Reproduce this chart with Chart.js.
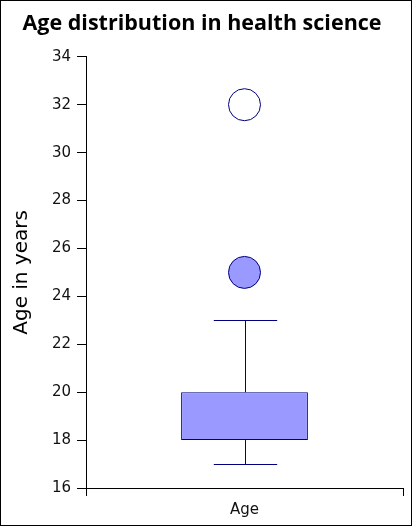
<!DOCTYPE html>
<html>
<head>
<meta charset="utf-8">
<script src="https://cdn.jsdelivr.net/npm/chart.js@4"></script>
<style>
  html, body { margin: 0; padding: 0; background: #fff; }
  #wrap { width: 412px; height: 526px; box-sizing: border-box; border: 1px solid #000; }
</style>
</head>
<body>
<div id="wrap"><canvas id="chart" width="410" height="524"></canvas></div>
<script>
// box plot values
const categories = ['Age'];
const boxLow = [18];
const boxHigh = [20];
const whiskerLow = [17];
const whiskerHigh = [23];
const outliers = [25];      // filled circles
const farOutliers = [32];   // open circles
const yTicks = [16, 18, 20, 22, 24, 26, 28, 30, 32, 34];

const navy = '#000080';
const fill = '#9999ff';

// draws the whisker stems and caps from the data through the scales
const whiskers = {
  id: 'whiskers',
  beforeDatasetsDraw(chart) {
    const { ctx, scales: { x, y } } = chart;
    const bar = chart.getDatasetMeta(0).data;
    ctx.save();
    ctx.strokeStyle = navy;
    ctx.lineWidth = 1;
    categories.forEach((c, i) => {
      const cx = Math.round(x.getPixelForValue(i)) + 0.5;
      const capHalf = bar[i].width / 4;
      const segs = [[boxHigh[i], whiskerHigh[i]], [whiskerLow[i], boxLow[i]]];
      segs.forEach(s => {
        ctx.beginPath();
        ctx.moveTo(cx, y.getPixelForValue(s[0]));
        ctx.lineTo(cx, y.getPixelForValue(s[1]));
        ctx.stroke();
      });
      [whiskerHigh[i], whiskerLow[i]].forEach(v => {
        const py = Math.round(y.getPixelForValue(v)) + 0.5;
        ctx.beginPath();
        ctx.moveTo(cx - capHalf, py);
        ctx.lineTo(cx + capHalf, py);
        ctx.stroke();
      });
    });
    ctx.restore();
  }
};

new Chart(document.getElementById('chart'), {
  type: 'bar',
  data: {
    labels: categories,
    datasets: [
      {
        label: 'Box',
        data: categories.map((c, i) => [boxLow[i], boxHigh[i]]),
        backgroundColor: fill,
        borderColor: navy,
        borderWidth: 1,
        borderSkipped: false,
        barPercentage: 0.4,
        categoryPercentage: 1,
        order: 2,
      },
      {
        type: 'line',
        label: 'Outliers',
        data: categories.map((c, i) => outliers[i]),
        showLine: false,
        pointRadius: 16,
        pointHoverRadius: 16,
        pointBackgroundColor: fill,
        pointBorderColor: navy,
        pointBorderWidth: 1,
        order: 1,
      },
      {
        type: 'line',
        label: 'Far outliers',
        data: categories.map((c, i) => farOutliers[i]),
        showLine: false,
        pointRadius: 16,
        pointHoverRadius: 16,
        pointBackgroundColor: '#fff',
        pointBorderColor: navy,
        pointBorderWidth: 1,
        order: 1,
      },
    ],
  },
  options: {
    responsive: false,
    animation: false,
    // autoPadding off, otherwise the big points push the right edge in
    layout: { autoPadding: false, padding: { right: 8, top: 0 } },
    plugins: {
      legend: { display: false },
      tooltip: { enabled: false },
      title: {
        display: true,
        text: 'Age distribution in health science',
        color: '#000',
        font: { family: 'Open Sans', size: 21.5, weight: 'bold' },
        padding: { top: 10, bottom: 20 },
      },
    },
    scales: {
      x: {
        offset: true,
        grid: { display: true, drawOnChartArea: false, offset: true, color: '#000', tickLength: 8 },
        border: { color: '#000' },
        ticks: { color: '#111', font: { family: 'DejaVu Sans', size: 15 }, padding: 5 },
        afterFit: s => { s.height = 37; s.paddingLeft = 0; s.paddingRight = 0; },
      },
      y: {
        min: 16,
        max: 34,
        afterBuildTicks: s => { s.ticks = yTicks.map(v => ({ value: v })); },
        grid: { display: true, drawOnChartArea: false, color: '#000', tickLength: 9 },
        border: { color: '#000' },
        ticks: { color: '#111', font: { family: 'DejaVu Sans', size: 15 }, padding: 6 },
        title: {
          display: true,
          text: 'Age in years',
          color: '#000',
          font: { family: 'DejaVu Sans', size: 20 },
          padding: { top: 9, bottom: 0 },
        },
        afterFit: s => { s.width = 85; },
      },
    },
  },
  plugins: [whiskers],
});
</script>
</body>
</html>
